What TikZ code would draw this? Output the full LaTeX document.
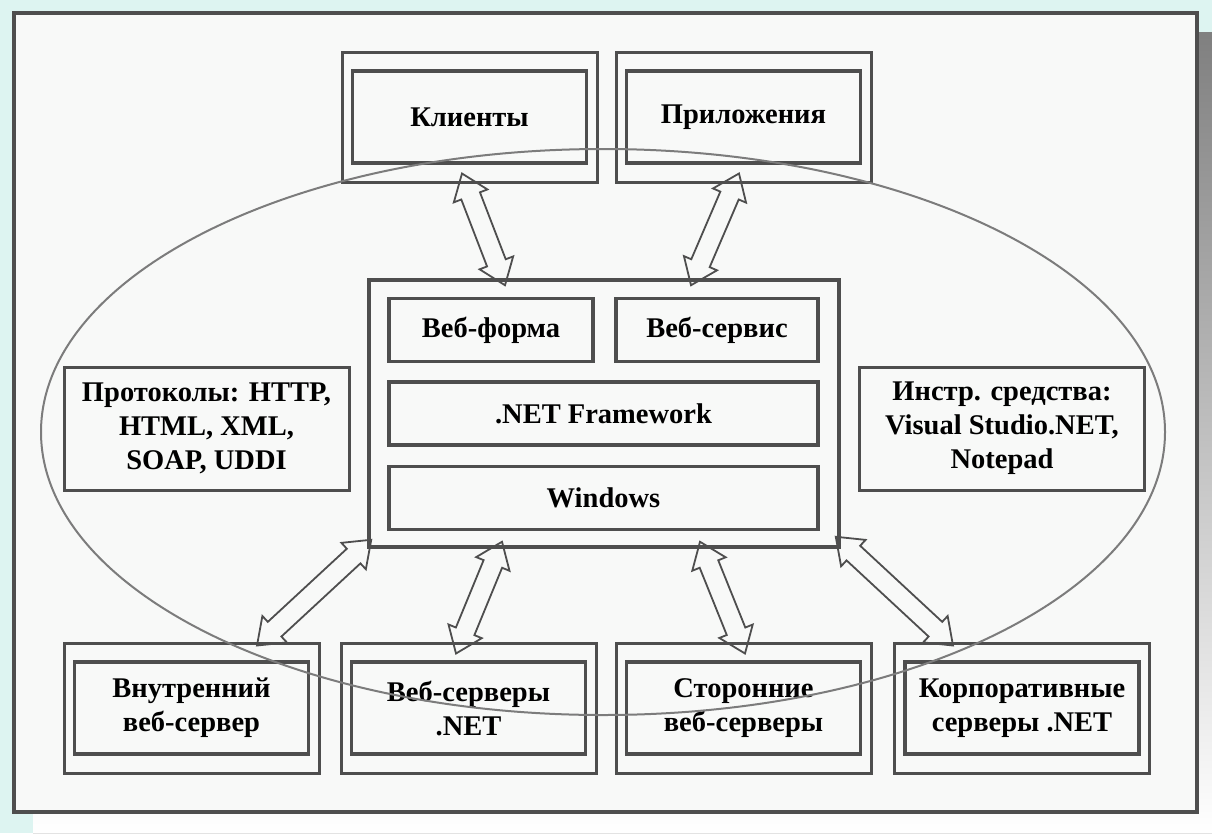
\documentclass[tikz,border=0pt]{standalone}
\usepackage{fontspec}
\setmainfont{Liberation Serif}
\usepackage{xcolor}
\usepackage{tikz}
\usetikzlibrary{calc}

\definecolor{bgcyan}{HTML}{DDF4F1}
\definecolor{paper}{HTML}{F8F9F8}
\definecolor{shade}{HTML}{8A8A8A}
\definecolor{ink}{HTML}{4E4E4E}
\definecolor{oval}{HTML}{7C7C7C}

\tikzset{
	outerbox/.style={draw=ink,line width=3pt,minimum width=255pt,minimum height=130pt},
	innerbox/.style={draw=ink,line width=3.5pt,minimum width=234pt,minimum height=92pt,inner sep=0pt,align=center,text=black},
	corebox/.style={draw=ink,line width=3.5pt,minimum width=470pt,minimum height=267pt},
	layer/.style={draw=ink,line width=3.5pt,minimum width=429pt,minimum height=63pt,inner sep=0pt,text=black},
	sidebox/.style={draw=ink,line width=3pt,minimum width=285pt,minimum height=123pt,inner sep=0pt,align=center,text=black},
	fatarrow/.style={draw=ink,line width=1.8pt,line join=miter}
}

\begin{document}
\begin{tikzpicture}[x=1pt,y=-1pt,font=\fontsize{28.5}{34}\selectfont\bfseries]
		\def\ahl{24pt}
		\def\ahw{18pt}
		\def\asw{10pt}
		\useasboundingbox (0,0) rectangle (1212,833);
		\fill [bgcyan] (0,0) rectangle (1212,833);
		\fill [shade] (1190,32) rectangle (1212,833)
			  (33,805) rectangle (1212,833);
		\draw [ink,line width=4.5pt,fill=paper] (14,13) rectangle (1197,812);
		% top row
		\node [outerbox] (klient-o) at (469.5,117) {};
		\node [innerbox] (klient) at (klient-o) {Клиенты};
		\node [outerbox] (prilozh-o) at (743.5,117) {};
		\node [innerbox] (prilozh) at (prilozh-o) {Приложения};
		% core
		\node [corebox] (core) at (604,413.5) {};
		\node [layer,minimum width=204pt] (forma) at (491,330) {Веб-форма};
		\node [layer,minimum width=202pt] (servis) at (717,330) {Веб-сервис};
		\node [layer] (netfw) at (603.5,413.5) {.NET Framework};
		\node [layer] (win) at (603.5,498) {Windows};
		% sides
		\node [sidebox] (proto) at (206.5,428.5) {Протоколы: HTTP,\\HTML, XML,\\SOAP, UDDI};
		\node [sidebox] (instr) at (1002,428.5) {Инстр. средства:\\Visual Studio.NET,\\Notepad};
		% bottom row
		\node [outerbox] (vnutr-o) at (191.5,708) {};
		\node [innerbox] (vnutr) at (vnutr-o) {Внутренний\\веб-сервер};
		\node [outerbox] (websrv-o) at (468.5,708) {};
		\node [innerbox] (websrv) at (websrv-o) {Веб-серверы\\.NET};
		\node [outerbox] (storon-o) at (743.5,708) {};
		\node [innerbox] (storon) at (storon-o) {Сторонние\\веб-серверы};
		\node [outerbox] (korp-o) at (1022,708) {};
		\node [innerbox] (korp) at (korp-o) {Корпоративные\\серверы .NET};
		\draw [oval,line width=2pt] (603,432) ellipse [x radius=562,y radius=283];
		% arrow ends
		\coordinate (a1) at ($(klient-o.south)+(-7.5,-10)$);
		\coordinate (b1) at ($(core.north)+(-99,7)$);
		\coordinate (a2) at ($(prilozh-o.south)+(-4.5,-10)$);
		\coordinate (b2) at ($(core.north)+(87,7)$);
		\coordinate (a3) at ($(vnutr-o.north)+(65.5,4)$);
		\coordinate (b3) at ($(core.south west)+(4,-9)$);
		\coordinate (a4) at ($(websrv-o.north)+(-12.5,12)$);
		\coordinate (b4) at ($(core.south)+(-102,-7)$);
		\coordinate (a5) at ($(storon-o.north)+(1.5,12)$);
		\coordinate (b5) at ($(core.south)+(96,-7)$);
		\coordinate (a6) at ($(korp-o.north)+(-69,4)$);
		\coordinate (b6) at ($(core.south east)+(-5,-12)$);
		\foreach \p/\q in {a1/b1,a2/b2,a3/b3,a4/b4,a5/b5,a6/b6}
			\draw [fatarrow] (\p) -- ($(\p)!\ahl!(\q)!\ahw!90:(\q)$) -- ($(\p)!\ahl!(\q)!\asw!90:(\q)$)
				-- ($(\q)!\ahl!(\p)!\asw!-90:(\p)$) -- ($(\q)!\ahl!(\p)!\ahw!-90:(\p)$) -- (\q)
				-- ($(\q)!\ahl!(\p)!\ahw!90:(\p)$) -- ($(\q)!\ahl!(\p)!\asw!90:(\p)$)
				-- ($(\p)!\ahl!(\q)!\asw!-90:(\q)$) -- ($(\p)!\ahl!(\q)!\ahw!-90:(\q)$) -- cycle;
	\end{tikzpicture}
\end{document}
